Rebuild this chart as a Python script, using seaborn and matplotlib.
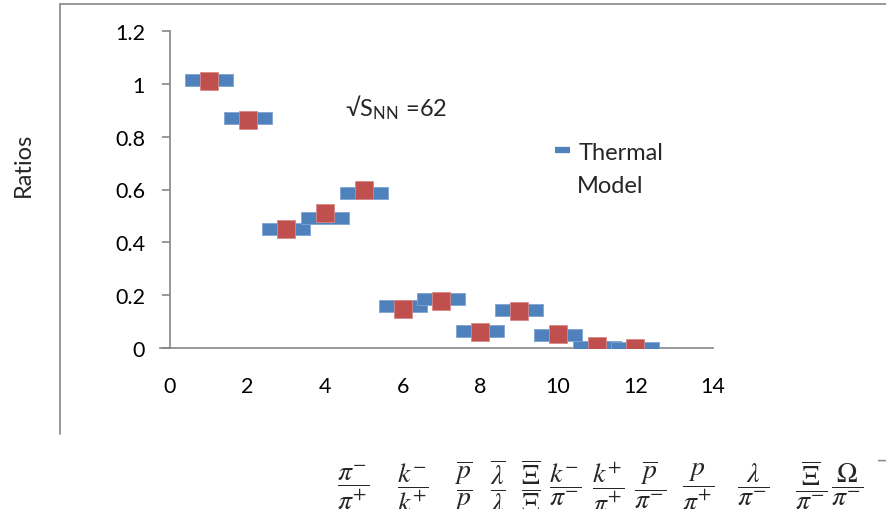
import matplotlib
matplotlib.use("Agg")
import matplotlib.pyplot as plt
from matplotlib.lines import Line2D
from matplotlib.path import Path
import seaborn as sns
import pandas as pd

# Particle ratio index and values
ratio_index = [1, 2, 3, 4, 5, 6, 7, 8, 9, 10, 11, 12]
thermal_model = [1.013, 0.871, 0.449, 0.492, 0.585, 0.159, 0.187, 0.064, 0.145, 0.048, 0.003, 0.001]
measured = [1.010, 0.862, 0.449, 0.511, 0.599, 0.149, 0.178, 0.060, 0.140, 0.054, 0.006, 0.001]

ratio_labels = [
    r"$\dfrac{\pi^{-}}{\pi^{+}}$",
    r"$\dfrac{k^{-}}{k^{+}}$",
    r"$\dfrac{\overline{p}}{p}$",
    r"$\dfrac{\overline{\lambda}}{\lambda}$",
    r"$\dfrac{\overline{\Xi}}{\Xi}$",
    r"$\dfrac{k^{-}}{\pi^{-}}$",
    r"$\dfrac{k^{+}}{\pi^{+}}$",
    r"$\dfrac{\overline{p}}{\pi^{-}}$",
    r"$\dfrac{p}{\pi^{+}}$",
    r"$\dfrac{\lambda}{\pi^{-}}$",
    r"$\dfrac{\overline{\Xi}}{\pi^{-}}$",
    r"$\dfrac{\Omega}{\pi^{-}}$",
]
label_x_px = [353, 413, 463, 498, 531, 565, 608, 650, 698, 753, 811, 847]

df = pd.DataFrame({"idx": ratio_index, "thermal": thermal_model, "measured": measured})

sns.set_theme(style="white")
plt.rcParams["font.family"] = ["Lato", "DejaVu Sans"]
plt.rcParams["mathtext.fontset"] = "stix"

W, H = 887, 510
fig = plt.figure(figsize=(W / 100, H / 100), dpi=100)
fig.patch.set_facecolor("white")
ax = fig.add_axes([170 / W, 1 - 349 / H, (713 - 170) / W, (349 - 32) / H])

blue = "#4F81BD"
red = "#C0504D"
grey = "#868686"

# wide flat rectangle marker for the thermal-model values
bar_marker = Path([(-0.5, -0.115), (0.5, -0.115), (0.5, 0.115), (-0.5, 0.115), (-0.5, -0.115)],
                  [Path.MOVETO, Path.LINETO, Path.LINETO, Path.LINETO, Path.CLOSEPOLY])

sns.scatterplot(data=df, x="idx", y="thermal", marker=bar_marker, s=1200, color=blue,
                edgecolor="#7FA3D3", linewidth=0.6, ax=ax, zorder=3, legend=False)
sns.scatterplot(data=df, x="idx", y="measured", marker="s", s=160, color=red,
                edgecolor="#D88A88", linewidth=0.6, ax=ax, zorder=4, legend=False)

ax.set_xlim(0, 14)
ax.set_ylim(0, 1.2)
ax.set_xticks(range(0, 15, 2))
ax.set_yticks([0, 0.2, 0.4, 0.6, 0.8, 1.0, 1.2])
ax.set_yticklabels(["0", "0.2", "0.4", "0.6", "0.8", "1", "1.2"])
ax.set_xlabel("")
ax.set_ylabel("")

for side in ["top", "right"]:
    ax.spines[side].set_visible(False)
for side in ["left", "bottom"]:
    ax.spines[side].set_color(grey)
    ax.spines[side].set_linewidth(1.2)
ax.spines["bottom"].set_bounds(-0.25, 14)

ax.tick_params(axis="y", which="major", direction="out", length=6, width=1.2, color=grey,
               pad=12, labelsize=15.5, labelcolor="black", left=True)
ax.tick_params(axis="x", which="major", length=0, pad=20, labelsize=15.5, labelcolor="black")

# legend: short swatch beside a two-line label
handle = Line2D([], [], color=blue, lw=4.5, solid_capstyle="butt")
fig.legend(handles=[handle], labels=["Thermal"], loc="center left",
           bbox_to_anchor=(555 / W, 1 - 153 / H), frameon=False, fontsize=17,
           handlelength=0.65, handletextpad=0.35, borderpad=0, borderaxespad=0)
fig.text(577 / W, 1 - 193 / H, "Model", fontsize=17, ha="left", va="baseline")

fig.text(345 / W, 1 - 117 / H, r"√S$_{\mathregular{NN}}$ =62", fontsize=17,
         ha="left", va="baseline", family=["Lato", "DejaVu Sans"])

fig.text(23 / W, 1 - 165 / H, "Ratios", rotation=90, fontsize=17, ha="center", va="center")

# fraction labels below the chart
for lbl, xp in zip(ratio_labels, label_x_px):
    fig.text(xp / W, 1 - 477 / H, lbl, fontsize=20, ha="center", va="center_baseline")
fig.text(882 / W, 1 - 461 / H, "–", fontsize=16, color=grey, ha="center", va="center")

# outer frame edges
fig.add_artist(Line2D([60 / W, 60 / W], [1 - 5 / H, 1 - 435 / H], color=grey, lw=1.2,
                      transform=fig.transFigure))
fig.add_artist(Line2D([60 / W, 1.0], [1 - 5 / H, 1 - 5 / H], color=grey, lw=1.2,
                      transform=fig.transFigure))

fig.savefig("out.png", dpi=100, facecolor="white")
